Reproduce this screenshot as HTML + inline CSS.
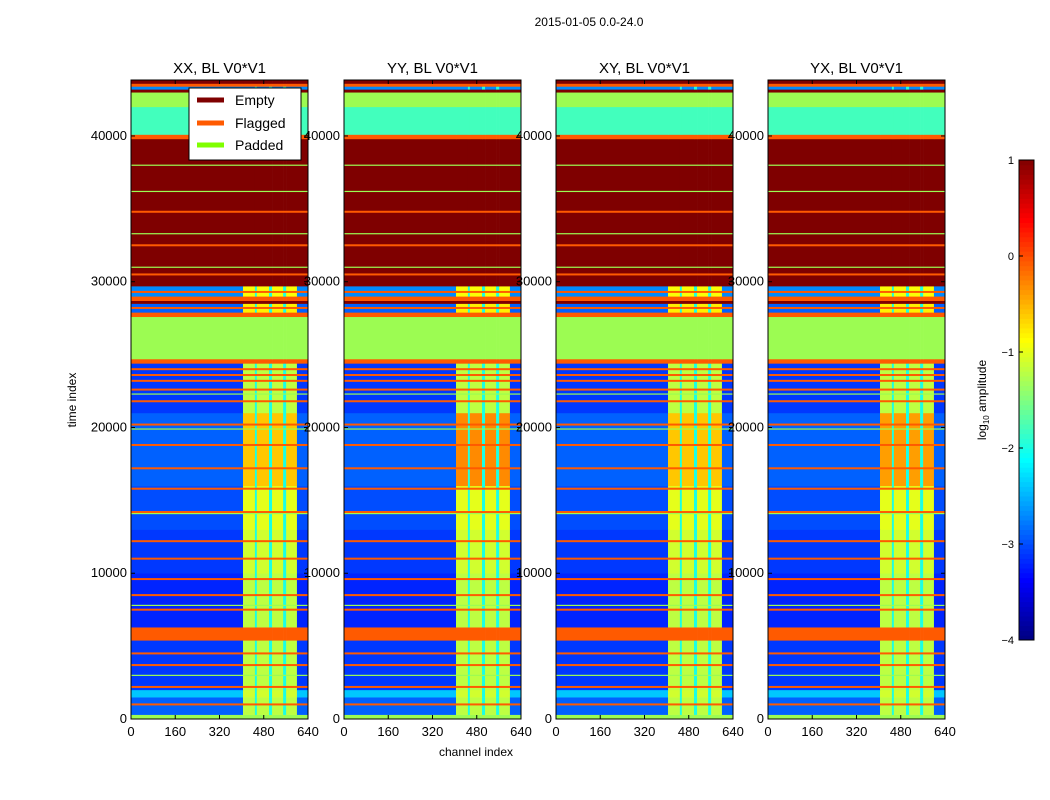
<!DOCTYPE html>
<html><head><meta charset="utf-8">
<style>
body{margin:0;background:#fff;}
svg{display:block;font-family:"Liberation Sans",sans-serif;}
</style></head>
<body>
<svg id="fig" width="1050" height="800" viewBox="0 0 1050 800">
<text x="589" y="26" font-size="12" text-anchor="middle">2015-01-05 0.0-24.0</text>
<text x="476" y="756" font-size="12" text-anchor="middle">channel index</text>
<text x="76" y="400" font-size="12" text-anchor="middle" transform="rotate(-90 76 400)">time index</text>
<g id="panels"></g>
<g id="cbar"></g>
</svg>
<script>
// ---- data ----
const panelTitles = ["XX, BL V0*V1","YY, BL V0*V1","XY, BL V0*V1","YX, BL V0*V1"];
const panelLeft = [131,344,556,768];
const xTicks = [0,160,320,480,640];
const yTicks = [0,10000,20000,30000,40000];
// time bands: start, end, kind (d=data,E=empty,F=flagged,P=padded), background log-amp, stripe log-amp
const bandStart = [0,300,1500,2000,5400,6300,10000,13000,16000,21000,24400,24700,27600,27900,28500,28700,29000,29700,39800,40100,42000,43000,43200,43400,43600];
const bandEnd   = [300,1500,2000,5400,6300,10000,13000,16000,21000,24400,24700,27600,27900,28500,28700,29000,29700,39800,40100,42000,43000,43200,43400,43600,43840];
const bandKind  = ["P","d","d","d","F","d","d","d","d","d","F","P","F","d","E","F","d","E","F","d","P","E","d","F","E"];
const bandBg    = [0,-2.9,-2.4,-3.1,0,-3.2,-3.1,-3.0,-2.9,-3.1,0,0,0,-2.9,0,0,-2.7,0,0,-1.8,0,0,-2.7,0,0];
const bandStripe= [0,-1.2,-1.1,-1.2,0,-1.2,-1.1,-1.0,-0.5,-1.2,0,0,0,-0.8,0,0,-0.9,0,0,-1.8,0,0,-2.7,0,0];
const panelHot  = [-0.6,-0.3,-0.6,-0.4];
const flagLines = [1000,2200,3700,4500,7500,8500,9600,11000,12200,14200,15800,17200,18800,20200,21800,22600,23200,23600,24000,30500,32500,34800,28200,29300];
const padLines  = [3000,7800,14100,19900,31000,33300,36200,38000,22300];
const segStart = [0,405,448,455,499,510,550,561,600];
const segEnd   = [405,448,455,499,510,550,561,600,640];
const segType  = ["b","s","g","s","g","s","g","s","b"];
const cbTicks = [1,0,-1,-2,-3,-4];

// ---- helpers ----
const NS="http://www.w3.org/2000/svg";
function el(tag,attrs,parent){const e=document.createElementNS(NS,tag);for(const k in attrs)e.setAttribute(k,attrs[k]);parent.appendChild(e);return e;}
function jet(v){let t=(v+4)/5;t=Math.max(0,Math.min(1,t));
 const f=x=>Math.round(255*Math.max(0,Math.min(1,x)));
 return `rgb(${f(1.5-Math.abs(4*t-3))},${f(1.5-Math.abs(4*t-2))},${f(1.5-Math.abs(4*t-1))})`;}
const COL={E:"#7f0000",F:"#ff5a00",P:"#9cfc52"};
const plotTop=80,plotBot=719,W=177,TMAX=43840;
const yS=t=>plotBot-(t/TMAX)*(plotBot-plotTop);
const panels=document.getElementById('panels');

panelTitles.forEach((title,p)=>{
 const L=panelLeft[p];
 const xS=c=>L+c/640*W;
 const g=el('g',{},panels);
 
 
 for(let i=0;i<bandStart.length;i++){
  const y1=yS(bandEnd[i]),y0=yS(bandStart[i]);
  for(let s=0;s<segStart.length;s++){
   let fill;
   if(bandKind[i]!=="d") fill=COL[bandKind[i]];
   else{
     let v=bandBg[i];
     if(segType[s]==="s") v=(bandStart[i]>=16000&&bandEnd[i]<=21000)?panelHot[p]:bandStripe[i];
     else if(segType[s]==="g") v=Math.max(bandBg[i],-2.0);
     fill=jet(v);
   }
   const r=el('rect',{x:xS(segStart[s]),y:y1,width:xS(segEnd[s])-xS(segStart[s])+0.3,height:y0-y1+0.3,fill:fill},g);
   
   
  }
 }
 flagLines.forEach(t=>{const r=el('rect',{x:L,y:yS(t)-1,width:W,height:2,fill:COL.F},g);
  
  });
 padLines.forEach(t=>{const r=el('rect',{x:L,y:yS(t)-0.5,width:W,height:1.2,fill:COL.P},g);
  
  });
 const fr=el('rect',{x:L,y:plotTop,width:W,height:plotBot-plotTop,fill:"none",stroke:"#000","stroke-width":1},g);
 
 
 const tt=el('text',{x:L+W/2,y:73,'font-size':15,'text-anchor':'middle'},g);tt.textContent=title;
 
 
 xTicks.forEach(c=>{const x=xS(c);
  el('line',{x1:x,x2:x,y1:plotBot,y2:plotBot-4,stroke:"#000"},g);el('line',{x1:x,x2:x,y1:plotTop,y2:plotTop+4,stroke:"#000"},g);
  const t=el('text',{x:x,y:plotBot+17,'font-size':13,'text-anchor':'middle'},g);t.textContent=c;
  
  });
 yTicks.forEach(v=>{const y=yS(v);
  el('line',{x1:L,x2:L+4,y1:y,y2:y,stroke:"#000"},g);el('line',{x1:L+W,x2:L+W-4,y1:y,y2:y,stroke:"#000"},g);
  const t=el('text',{x:L-4,y:y+4,'font-size':13,'text-anchor':'end'},g);t.textContent=v;
  
  });
});

// legend
const lg=el('g',{},panels);


el('rect',{x:189,y:88,width:112,height:72,fill:"#fff",stroke:"#000"},lg);
[["Empty",COL.E,100],["Flagged",COL.F,123],["Padded","#7fff00",145]].forEach(([n,c,y])=>{
 const e=el('g',{},lg);
 
 
 el('line',{x1:197,x2:224,y1:y,y2:y,stroke:c,'stroke-width':5},e);
 const t=el('text',{x:235,y:y+5,'font-size':14},e);t.textContent=n;});

// colorbar
const cb=document.getElementById('cbar');


const cbT=160,cbB=640,cbX=1019,cbW=15;
const cbY=v=>cbB-(v+4)/5*(cbB-cbT);
for(let i=0;i<100;i++){const v=-4+i*0.05;
 el('rect',{x:cbX,y:cbY(v+0.05),width:cbW,height:(cbB-cbT)/100+0.5,fill:jet(v+0.025)},cb);}
el('rect',{x:cbX,y:cbT,width:cbW,height:cbB-cbT,fill:"none",stroke:"#000"},cb);
cbTicks.forEach(v=>{const y=cbY(v);
 el('line',{x1:cbX,x2:cbX+4,y1:y,y2:y,stroke:"#000"},cb);
 const t=el('text',{x:cbX-5,y:y+4,'font-size':11,'text-anchor':'end'},cb);t.textContent=v<0?"\u2212"+(-v):v;
 
 });
const cl=el('text',{x:986,y:400,'font-size':12,'text-anchor':'middle',transform:'rotate(-90 986 400)'},cb);
cl.innerHTML='log<tspan font-size="8" dy="3">10</tspan><tspan dy="-3"> amplitude</tspan>';


</script>
</body></html>
